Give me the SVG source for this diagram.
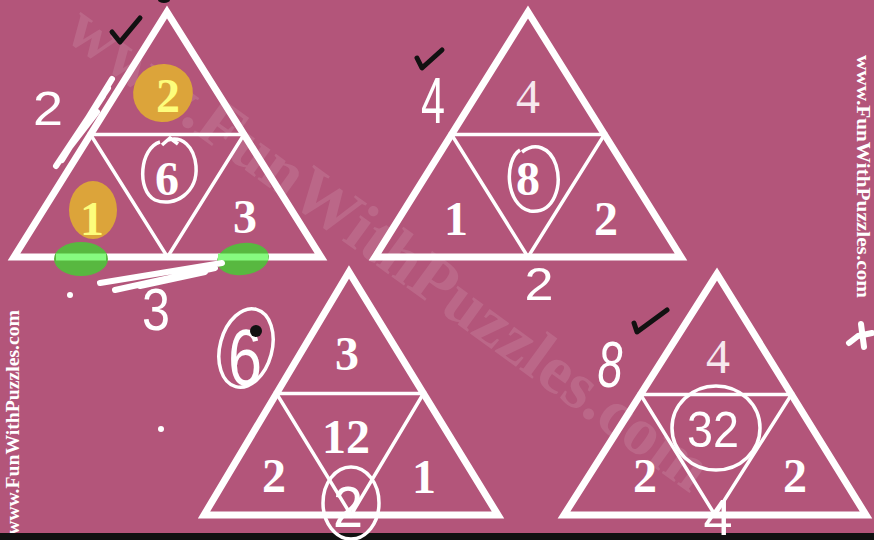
<svg xmlns="http://www.w3.org/2000/svg" width="874" height="540" viewBox="0 0 874 540">
<style>
.outer{fill:none;stroke:#fff;stroke-width:7;stroke-linejoin:miter}
.inner{fill:none;stroke:#fff;stroke-width:3.5}
.num{font-family:"Liberation Serif","DejaVu Serif",serif;font-weight:bold;font-size:48px;fill:#fff;text-anchor:middle}
.thin{font-weight:normal;fill:#f6e8ee}
.yel{fill:#fdfd7c}
.hand{font-family:"Liberation Sans","DejaVu Sans",sans-serif;fill:#fff;text-anchor:middle}
.ring{fill:none;stroke:#fff;stroke-width:3.5}
.scrib{fill:none;stroke:#fff;stroke-width:6;stroke-linecap:round;stroke-linejoin:round}
.tick{fill:none;stroke:#111;stroke-width:5;stroke-linecap:round;stroke-linejoin:round}
.wm{font-family:"Liberation Serif","DejaVu Serif",serif;font-weight:bold;fill:#fff}
</style>
<rect width="874" height="540" fill="#b3557a"/>
<g id="watermarks">
<text class="wm" font-size="68" fill-opacity="0.11" transform="translate(62,37) rotate(36)">www.FunWithPuzzles.com</text>
<text class="wm" font-size="19" textLength="243" lengthAdjust="spacingAndGlyphs" transform="translate(857,55) rotate(90)">www.FunWithPuzzles.com</text>
<text class="wm" font-size="19" textLength="225" lengthAdjust="spacingAndGlyphs" transform="translate(19,535) rotate(-90)">www.FunWithPuzzles.com</text>
</g>
<rect x="0" y="533" width="874" height="7" fill="#111"/>
<g id="tri1">
<ellipse cx="163" cy="93" rx="30" ry="29" transform="rotate(-20 163 93)" fill="#dca43a"/>
<ellipse cx="93" cy="210" rx="24" ry="29" fill="#dca43a"/>
<polygon class="outer" points="167,12 14,257 321,257"/>
<polygon class="inner" points="90.5,134.5 244,134.5 167.5,257"/>
<text class="num yel" x="168" y="112">2</text>
<text class="num" x="167" y="195">6</text>
<text class="num yel" x="92" y="235">1</text>
<text class="num" x="245" y="233">3</text>
<ellipse cx="81" cy="259" rx="27" ry="17" fill="#58b840"/>
<ellipse cx="243" cy="259" rx="26" ry="16" transform="rotate(-8 243 259)" fill="#58b840"/>
<line x1="56" y1="257" x2="106" y2="257" stroke="#86fb7f" stroke-width="7"/>
<line x1="218" y1="257" x2="268" y2="257" stroke="#86fb7f" stroke-width="7"/>
</g>
<g id="tri2">
<polygon class="outer" points="528,12 375,257 681,257"/>
<polygon class="inner" points="451.5,134.5 604.5,134.5 528,257"/>
<text class="num thin" x="528" y="113">4</text>
<text class="num" x="528" y="195">8</text>
<text class="num" x="456" y="235">1</text>
<text class="num" x="606" y="235">2</text>
</g>
<g id="tri3">
<polygon class="outer" points="349,272 204,515 498,515"/>
<polygon class="inner" points="276.5,393.5 423.5,393.5 351,515"/>
<text class="num" x="347" y="370">3</text>
<text class="num" x="346" y="453">12</text>
<text class="num" x="274" y="492">2</text>
<text class="num" x="424" y="493">1</text>
</g>
<g id="tri4">
<polygon class="outer" points="717,274 564,515 866,515"/>
<polygon class="inner" points="640.5,394.5 791.5,394.5 715,515"/>
<text class="num thin" x="718" y="373">4</text>
<text class="num" x="645" y="492">2</text>
<text class="num" x="795" y="492">2</text>
</g>
<g id="annotations">
<path class="scrib" d="M112,79 L62,160 M108,88 L56,166 M103,96 L70,146 M97,112 L60,160 M88,120 L66,152"/>
<path class="scrib" d="M100,283 L222,263 M115,290 L215,268 M140,286 L205,272"/>
<circle cx="70" cy="295" r="3" fill="#fff"/>
<circle cx="161" cy="429" r="3" fill="#fff"/>
<path class="ring" d="M160,142 C140,148 136,190 155,200 C175,208 198,192 196,166 C194,146 182,136 168,140 M162,145 L170,138 L178,144"/>
<path class="ring" d="M520,150 C504,160 505,205 530,211 C555,214 562,185 556,165 C550,147 535,142 522,152"/>
<ellipse class="ring" cx="246" cy="348" rx="26" ry="40" transform="rotate(15 246 348)"/>
<ellipse class="ring" cx="351" cy="503" rx="28" ry="36"/>
<ellipse class="ring" cx="716" cy="428" rx="44" ry="42"/>
<text class="hand" x="48" y="125" font-size="48" textLength="30" lengthAdjust="spacingAndGlyphs">2</text>
<text class="hand" x="156" y="330" font-size="60" textLength="28" lengthAdjust="spacingAndGlyphs">3</text>
<text class="hand" x="433" y="123" font-size="64" textLength="24" lengthAdjust="spacingAndGlyphs">4</text>
<text class="hand" x="539" y="300" font-size="46" textLength="29" lengthAdjust="spacingAndGlyphs">2</text>
<text class="hand" x="245" y="385" font-size="80" textLength="34" lengthAdjust="spacingAndGlyphs">6</text>
<text class="hand" x="348" y="527" font-size="58" textLength="30" lengthAdjust="spacingAndGlyphs">2</text>
<text class="hand" x="610" y="387" font-size="64" font-style="italic" textLength="25" lengthAdjust="spacingAndGlyphs">8</text>
<text class="hand" x="713" y="447" font-size="50" textLength="52" lengthAdjust="spacingAndGlyphs">32</text>
<text class="hand" x="718" y="535" font-size="50" textLength="29" lengthAdjust="spacingAndGlyphs">4</text>
<path class="scrib" d="M849,343 L858,336 L872,333 M861,324 L864,347"/>
<path class="tick" d="M112,32 L120,42 L140,18"/>
<path class="tick" d="M417,58 L422,68 L442,50"/>
<path class="tick" d="M634,323 L637,332 L667,310"/>
<circle cx="256" cy="331" r="6" fill="#111"/>
<ellipse cx="164" cy="0" rx="6" ry="3" fill="#111"/>
</g>
</svg>
